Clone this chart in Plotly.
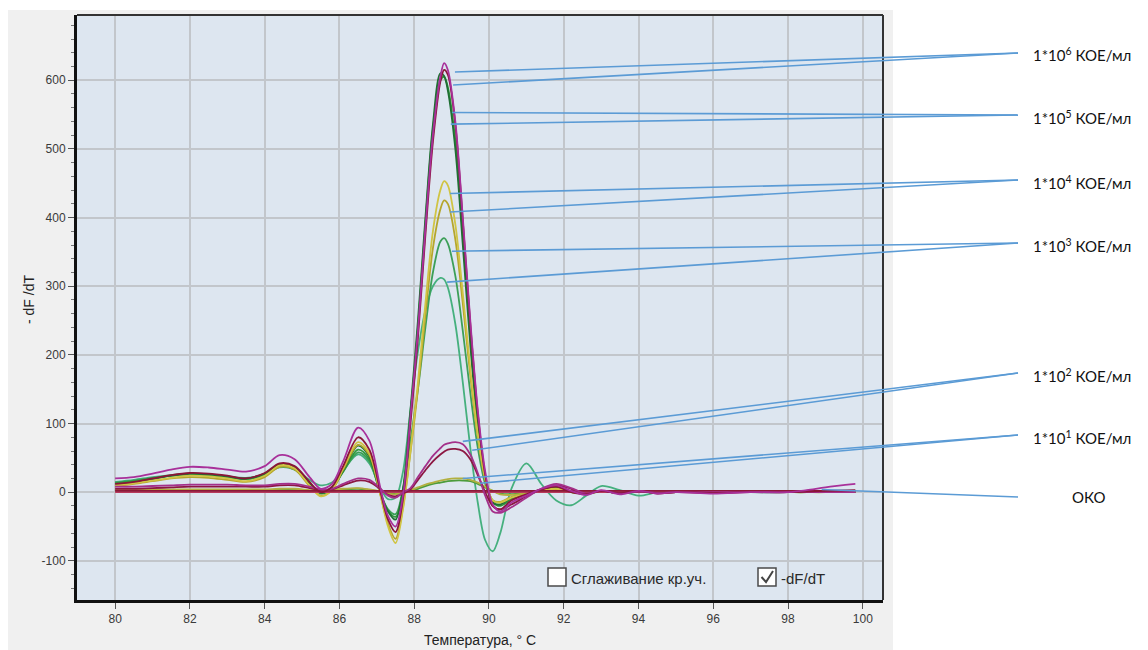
import plotly.graph_objects as go

# ---------------- data ----------------
temperature = [80, 80.5, 81, 81.5, 82, 82.5, 83, 83.5, 84, 84.4, 84.8, 85.2, 85.5, 85.8, 86.1,
               86.5, 86.8, 87.1, 87.3, 87.5, 87.7, 87.9, 88.1, 88.3, 88.5, 88.7, 88.8, 88.9,
               89.1, 89.3, 89.5, 89.7, 89.9, 90.1, 90.3, 90.6, 91.0, 91.4, 91.8, 92.2, 92.6,
               93.0, 93.5, 94.0, 94.5, 95, 96, 97, 98, 98.5, 99, 99.8]

e6_magenta = [20, 22, 27, 33, 37, 36, 33, 30, 38, 54, 48, 22, 5, 12, 45, 94, 75, 5, -35, -50, -5,
              110, 235, 385, 520, 605, 625, 615, 540, 400, 250, 120, 30, -18, -28, -15, -5, 5, 10,
              2, -4, 3, -3, 2, -2, 0, -2, 0, 0, 3, 7, 12]
e6_maroon = [12, 15, 20, 25, 28, 27, 24, 20, 28, 42, 38, 15, 0, 8, 38, 80, 62, 0, -40, -58, -10,
             100, 225, 375, 510, 598, 615, 608, 535, 395, 245, 115, 25, -20, -25, -12, -3, 4, 8,
             0, -3, 2, -2, 2, -2, 0, -1, 0, 0, 1, 2, 3]
e5_darkgreen = [10, 14, 19, 24, 27, 26, 23, 20, 27, 40, 36, 13, -1, 6, 32, 68, 52, -2, -28, -40, 5,
                120, 250, 400, 535, 610, 606, 585, 500, 360, 215, 95, 18, -15, -18, -8, -2, 3, 6,
                0, -2, 2, -1, 1, -1, 0, 0, 0, 0, 1, 1, 2]
e5_green = [13, 16, 20, 24, 26, 25, 22, 19, 26, 38, 34, 12, -2, 5, 30, 62, 48, -3, -27, -36, 2,
            112, 240, 392, 528, 600, 605, 590, 512, 375, 228, 105, 22, -14, -20, -10, -3, 3, 7,
            1, -2, 2, -2, 2, -1, 1, 0, 1, 0, 1, 1, 2]
e4_yellow = [10, 13, 17, 21, 24, 23, 20, 16, 24, 39, 35, 10, -6, 3, 35, 73, 57, -5, -50, -74, -25,
             60, 160, 275, 380, 440, 453, 447, 390, 290, 180, 85, 20, -12, -15, -8, -2, 2, 5,
             0, -2, 1, -1, 1, -1, 0, 0, 0, 0, 0, 1, 1]
e4_olive = [9, 12, 16, 20, 22, 21, 18, 15, 22, 37, 33, 9, -5, 3, 33, 69, 54, -5, -46, -68, -22,
            58, 150, 258, 355, 412, 425, 420, 368, 275, 170, 80, 18, -12, -14, -7, -2, 2, 4,
            0, -1, 1, -1, 1, 0, 0, 0, 0, 0, 0, 0, 1]
e3_green = [14, 17, 21, 24, 26, 25, 22, 19, 25, 37, 33, 12, 0, 7, 30, 58, 45, -2, -25, -32, 5,
            75, 150, 240, 320, 365, 370, 362, 315, 235, 145, 65, 12, -12, -15, -8, -3, 2, 5,
            0, -2, 1, -1, 1, 0, 0, 0, 0, 0, 0, 1, 1]
e3_teal = [15, 18, 22, 25, 27, 26, 23, 21, 26, 36, 33, 18, 10, 14, 32, 55, 42, 5, -10, -8, 30,
           120, 205, 265, 300, 312, 310, 298, 245, 160, 65, -15, -70, -86, -60, 5, 42, 12, -12,
           -19, -5, 9, 3, -5, 0, 2, -1, 1, 0, 1, 1, 1]
e2_magenta = [8, 8, 9, 10, 11, 11, 11, 10, 10, 12, 12, 8, 4, 5, 12, 20, 18, 5, -5, -8, 0,
              6, 22, 38, 53, 64, 69, 71, 73, 70, 55, 28, -5, -28, -30, -22, -8, 5, 12,
              6, -2, 2, -2, 1, -1, 0, 0, 0, 0, 0, 0, 0]
e2_maroon = [5, 5, 6, 7, 8, 8, 8, 8, 8, 10, 10, 6, 3, 4, 10, 17, 15, 4, -4, -6, -2,
             4, 18, 32, 45, 55, 59, 62, 63, 60, 48, 25, 0, -20, -25, -18, -6, 4, 10,
             5, -2, 2, -1, 1, -1, 0, 0, 0, 0, 0, 0, 0]
e1_olive = [4, 4, 4, 4, 4, 4, 4, 4, 4, 5, 5, 3, 2, 3, 5, 6, 4, 1, -2, -3, 0,
            3, 7, 11, 14, 17, 18, 19, 20, 20, 18, 14, 8, 2, -3, -4, -1, 1, 2,
            1, 0, 0, 0, 0, 0, 0, 0, 0, 0, 0, 0, 0]
e1_green = [3, 3, 3, 3, 3, 3, 3, 3, 3, 4, 4, 2, 1, 2, 4, 5, 3, 1, -1, -2, 0,
            2, 5, 9, 12, 14, 15, 16, 17, 17, 16, 12, 7, 2, -2, -3, -1, 1, 1,
            0, 0, 0, 0, 0, 0, 0, 0, 0, 0, 0, 0, 0]
oko_maroon = [2, 2, 2, 2, 2, 2, 2, 2, 2, 2, 2, 2, 2, 2, 2, 2, 2, 2, 2, 2, 2,
              2, 2, 2, 2, 2, 2, 2, 2, 2, 2, 2, 2, 2, 2, 2, 2, 2, 2,
              2, 2, 2, 2, 2, 2, 2, 2, 2, 2, 2, 2, 2]
oko_red = [0, 0, 0, 0, 0, 0, 0, 0, 0, 0, 0, 0, 0, 0, 0, 0, 0, 0, 0, 0, 0,
           0, 0, 0, 0, 0, 0, 0, 0, 0, 0, 0, 0, 0, 0, 0, 0, 0, 0,
           0, 0, 0, 0, 0, 0, 0, 0, 0, 0, 0, 0, 0]

x_ticks = [80, 82, 84, 86, 88, 90, 92, 94, 96, 98, 100]
y_ticks = [-100, 0, 100, 200, 300, 400, 500, 600]
y_tick_text = ["-100", "0", "100", "200", "300", "400", "500", "600"]

label_texts = ["1*10<sup>6</sup> КОЕ/мл", "1*10<sup>5</sup> КОЕ/мл", "1*10<sup>4</sup> КОЕ/мл",
               "1*10<sup>3</sup> КОЕ/мл", "1*10<sup>2</sup> КОЕ/мл", "1*10<sup>1</sup> КОЕ/мл", "ОКО"]
# pointer start points on the curves (temperature, -dF/dT), two per label
pointer_T = [[89.09, 89.04], [89.01, 88.98], [88.96, 88.96], [89.01, 88.88],
             [89.30, 89.55], [89.30, 89.76], [98.9]]
pointer_V = [[612, 593], [553, 536], [435, 408], [351, 306], [74, 61], [20, 13], [4]]

# ---------------- layout geometry ----------------
OFF = 8                      # page body margin offset
W, H = 1148 - OFF, 650 - OFF
L = 77 - OFF
T = 15 - OFF
R = 1148 - 883
B = 650 - 600
PW, PH = W - L - R, H - T - B
XR = [78.98, 100.54]
YR = [-157, 695]


def px2paper(px, py):
    # px, py are page pixels (as in the reference picture)
    return (px - OFF - L) / PW, (H - B - (py - OFF)) / PH


def data2paper(x, y):
    return (x - XR[0]) / (XR[1] - XR[0]), (y - YR[0]) / (YR[1] - YR[0])


series = [
    (e3_teal, "#45b07e"),
    (e3_green, "#3c9f58"),
    (e5_green, "#2f9a3c"),
    (e5_darkgreen, "#1f6f33"),
    (e4_olive, "#b5a62c"),
    (e4_yellow, "#d0c444"),
    (e1_green, "#4c9c3c"),
    (e1_olive, "#b2b040"),
    (oko_red, "#b83a5c"),
    (oko_maroon, "#8c1838"),
    (e2_maroon, "#8c1742"),
    (e2_magenta, "#a4308a"),
    (e6_maroon, "#8a1538"),
    (e6_magenta, "#a8309a"),
]

fig = go.Figure()
for ys, col in series:
    fig.add_trace(go.Scatter(x=temperature, y=ys, mode="lines",
                             line=dict(color=col, width=1.8, shape="spline", smoothing=0.9),
                             showlegend=False, hoverinfo="skip"))

shapes = []
# grey application panel behind the chart
x0, y0 = px2paper(8, 650)
x1, y1 = px2paper(893, 10)
shapes.append(dict(type="rect", xref="paper", yref="paper", x0=x0, y0=y0, x1=x1, y1=y1,
                   fillcolor="#f0f0f0", line=dict(width=0), layer="below"))
# light blue plotting surface
shapes.append(dict(type="rect", xref="paper", yref="paper", x0=0, y0=0, x1=1, y1=1,
                   fillcolor="#dde6f0", line=dict(width=0), layer="below"))
# top & right frame lines
shapes.append(dict(type="line", xref="paper", yref="paper", x0=0, y0=1, x1=1, y1=1,
                   line=dict(color="#333333", width=2)))
shapes.append(dict(type="line", xref="paper", yref="paper", x0=1, y0=0, x1=1, y1=1,
                   line=dict(color="#333333", width=2)))

# pointer lines and labels
label_py = [53, 115, 180, 243, 373, 435, 497]
end_x = px2paper(1018, 0)[0]
end_y_list = [px2paper(0, p)[1] for p in label_py]
annotations = []
for i, txt in enumerate(label_texts):
    ey = end_y_list[i]
    for tx, vy in zip(pointer_T[i], pointer_V[i]):
        sx, sy = data2paper(tx, vy)
        shapes.append(dict(type="line", xref="paper", yref="paper", x0=sx, y0=sy, x1=end_x, y1=ey,
                           line=dict(color="#5b9bd5", width=1.6), layer="above"))
    if txt == "ОКО":
        ax_, ay_ = px2paper(1089, label_py[i])
        annotations.append(dict(x=ax_, y=ay_, xref="paper", yref="paper", text=txt, showarrow=False,
                                xanchor="center", yanchor="middle",
                                font=dict(family="Lato, Liberation Sans", size=15, color="#111111")))
    else:
        ax_, ay_ = px2paper(1031, label_py[i] + 2)
        annotations.append(dict(x=ax_, y=ay_, xref="paper", yref="paper", text=txt, showarrow=False,
                                xanchor="left", yanchor="middle",
                                font=dict(family="Lato, Liberation Sans", size=15, color="#111111")))

# checkbox legend
bx0, by0 = px2paper(548, 586)
bx1, by1 = px2paper(566, 568)
shapes.append(dict(type="rect", xref="paper", yref="paper", x0=bx0, y0=by0, x1=bx1, y1=by1,
                   fillcolor="white", line=dict(color="#4a4a4a", width=1.5)))
cx0, cy0 = px2paper(758, 586)
cx1, cy1 = px2paper(776, 568)
shapes.append(dict(type="rect", xref="paper", yref="paper", x0=cx0, y0=cy0, x1=cx1, y1=cy1,
                   fillcolor="white", line=dict(color="#4a4a4a", width=1.5)))
p1 = px2paper(761.5, 577)
p2 = px2paper(766, 582)
p3 = px2paper(773, 571)
shapes.append(dict(type="path", xref="paper", yref="paper",
                   path=f"M {p1[0]},{p1[1]} L {p2[0]},{p2[1]} L {p3[0]},{p3[1]}",
                   line=dict(color="#444444", width=2)))
tx1, ty1 = px2paper(569, 578)
annotations.append(dict(x=tx1, y=ty1, xref="paper", yref="paper", text="Сглаживание кр.уч.",
                        showarrow=False, xanchor="left", yanchor="middle",
                        font=dict(family="Liberation Sans", size=15, color="#2a2a2a")))
tx2, ty2 = px2paper(779, 578)
annotations.append(dict(x=tx2, y=ty2, xref="paper", yref="paper", text="-dF/dT",
                        showarrow=False, xanchor="left", yanchor="middle",
                        font=dict(family="Liberation Sans", size=15, color="#2a2a2a")))

# axis titles
xt = px2paper(480, 640)
annotations.append(dict(x=xt[0], y=xt[1], xref="paper", yref="paper", text="Температура, ° C",
                        showarrow=False, xanchor="center", yanchor="middle",
                        font=dict(family="Liberation Sans", size=14, color="#222222")))
yt = px2paper(29, 300)
annotations.append(dict(x=yt[0], y=yt[1], xref="paper", yref="paper", text="- dF /dT",
                        showarrow=False, xanchor="center", yanchor="middle", textangle=-90,
                        font=dict(family="Liberation Sans", size=14, color="#222222")))

fig.update_layout(
    width=W, height=H,
    margin=dict(l=L, r=R, t=T, b=B),
    paper_bgcolor="white",
    plot_bgcolor="#dde6f0",
    shapes=shapes,
    annotations=annotations,
    showlegend=False,
    xaxis=dict(range=XR, tickvals=x_ticks, ticks="outside", ticklen=6, tickcolor="#555",
               showgrid=True, gridcolor="#c2c6cb", gridwidth=1.5, zeroline=False,
               showline=True, linecolor="#111111", linewidth=3,
               tickfont=dict(family="Liberation Sans", size=12, color="#3a3a3a")),
    yaxis=dict(range=YR, tickvals=y_ticks, ticktext=y_tick_text, ticks="outside", ticklen=6,
               tickcolor="#555",
               showgrid=True, gridcolor="#c2c6cb", gridwidth=1.5, zeroline=False,
               showline=True, linecolor="#111111", linewidth=3,
               minor=dict(dtick=20, ticks="outside", ticklen=3, tickcolor="#777", showgrid=False),
               tickfont=dict(family="Liberation Sans", size=12, color="#3a3a3a")),
)

fig.write_html("out.html", config={"displayModeBar": False})
